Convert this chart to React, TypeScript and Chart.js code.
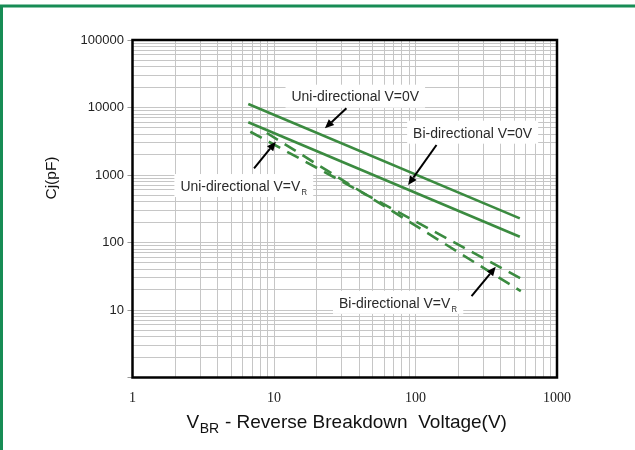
import React, { useEffect, useRef } from 'react';
import { Chart, registerables } from 'chart.js';

Chart.register(...registerables);

// ---- axes ----
const xDecades = [1, 10, 100, 1000];
const xTickLabels = ['1', '10', '100', '1000'];
const yDecades = [1, 10, 100, 1000, 10000, 100000];
const yTickLabels = ['', '10', '100', '1000', '10000', '100000'];
const xTitleMain = 'V';
const xTitleSub = 'BR';
const xTitleRest = ' - Reverse Breakdown  Voltage(V)';
const yTitle = 'Cj(pF)';

// ---- curves: VBR (V) vs Cj (pF) ----
const uniZeroVbr = [6.58, 546];
const uniZeroCj = [11270, 228];
const biZeroVbr = [6.58, 546];
const biZeroCj = [6040, 121.5];
const uniVrVbr = [8.9, 555];
const uniVrCj = [4190, 19];
const biVrVbr = [6.8, 564];
const biVrCj = [4375, 28.7];

// ---- annotations ----
const labelTexts = ['Uni-directional V=0V', 'Bi-directional V=0V', 'Uni-directional V=V', 'Bi-directional V=V'];
const labelSubs = ['', '', 'R', 'R'];
const labelX = [13.3, 96.2, 2.18, 28.8];
const labelY = [14960, 4380, 710, 13.2];
const arrowFromX = [32.5, 140.7, 7.23, 249];
const arrowFromY = [9730, 2780, 1256, 16.0];
const arrowToX = [22.9, 88.7, 10.3, 369];
const arrowToY = [4920, 710, 3110, 43.6];

const GREEN = '#3b8b40';

const pts = (xs: number[], ys: number[]) => xs.map((x, i) => ({ x, y: ys[i] }));

const buildLogTicks = (decades: number[]) => {
  const t: any[] = [];
  for (let i = 0; i < decades.length; i++) {
    const d = decades[i];
    t.push({ value: d, major: true });
    if (i < decades.length - 1) {
      for (let k = 2; k <= 9; k++) t.push({ value: d * k, major: false });
    }
  }
  return t;
};

const SANS = '"Liberation Sans", Arial, sans-serif';
const SERIF = '"Liberation Serif", "Times New Roman", serif';

function drawArrow(ctx: CanvasRenderingContext2D, x1: number, y1: number, x2: number, y2: number) {
  const ang = Math.atan2(y2 - y1, x2 - x1);
  const head = 9;
  const hw = 4;
  const bx = x2 - head * Math.cos(ang);
  const by = y2 - head * Math.sin(ang);
  ctx.save();
  ctx.strokeStyle = '#000';
  ctx.lineWidth = 2;
  ctx.beginPath();
  ctx.moveTo(x1, y1);
  ctx.lineTo(bx, by);
  ctx.stroke();
  ctx.fillStyle = '#000';
  ctx.beginPath();
  ctx.moveTo(x2, y2);
  ctx.lineTo(bx + hw * Math.sin(ang), by - hw * Math.cos(ang));
  ctx.lineTo(bx - hw * Math.sin(ang), by + hw * Math.cos(ang));
  ctx.closePath();
  ctx.fill();
  ctx.restore();
}

function drawLabel(ctx: CanvasRenderingContext2D, text: string, sub: string, x: number, cy: number) {
  const sx = 0.9;
  const mainFont = `15.5px ${SANS}`;
  const subFont = `8.5px ${SANS}`;
  ctx.save();
  ctx.font = mainFont;
  const w1 = ctx.measureText(text).width * sx;
  ctx.font = subFont;
  const w2 = sub ? ctx.measureText(sub).width * sx + 1.5 : 0;
  const w = w1 + w2;
  ctx.fillStyle = '#fff';
  ctx.fillRect(x - 6, cy - 11, w + 12, 23);
  ctx.fillStyle = '#2a2a2a';
  ctx.textAlign = 'left';
  ctx.textBaseline = 'alphabetic';
  ctx.translate(x, cy + 5.8);
  ctx.scale(sx, 1);
  ctx.font = mainFont;
  ctx.fillText(text, 0, 0);
  if (sub) {
    ctx.font = subFont;
    ctx.fillText(sub, w1 / sx + 1.5, 4.4);
  }
  ctx.restore();
}

const decor = {
  id: 'decor',
  beforeDraw(chart: any) {
    const ctx = chart.ctx;
    ctx.save();
    ctx.fillStyle = '#fff';
    ctx.fillRect(0, 0, chart.width, chart.height);
    ctx.restore();
  },
  beforeDatasetsDraw(chart: any) {
    const ctx = chart.ctx;
    const xs = chart.scales.x;
    const ys = chart.scales.y;
    for (let i = 0; i < labelTexts.length; i++) {
      drawLabel(ctx, labelTexts[i], labelSubs[i], xs.getPixelForValue(labelX[i]), ys.getPixelForValue(labelY[i]));
    }
  },
  afterDraw(chart: any) {
    const ctx = chart.ctx;
    const a = chart.chartArea;
    const xs = chart.scales.x;
    const ys = chart.scales.y;
    // plot frame
    ctx.save();
    ctx.strokeStyle = '#000';
    ctx.lineWidth = 2.5;
    ctx.strokeRect(a.left, a.top, a.right - a.left, a.bottom - a.top);
    ctx.restore();
    // arrows
    for (let i = 0; i < arrowFromX.length; i++) {
      drawArrow(
        ctx,
        xs.getPixelForValue(arrowFromX[i]),
        ys.getPixelForValue(arrowFromY[i]),
        xs.getPixelForValue(arrowToX[i]),
        ys.getPixelForValue(arrowToY[i])
      );
    }
    // x title
    ctx.save();
    ctx.fillStyle = '#111';
    ctx.textBaseline = 'alphabetic';
    ctx.textAlign = 'left';
    const mainF = `19px ${SANS}`;
    const subF = `14px ${SANS}`;
    ctx.font = mainF;
    const wV = ctx.measureText(xTitleMain).width;
    const wRest = ctx.measureText(xTitleRest).width;
    ctx.font = subF;
    const wSub = ctx.measureText(xTitleSub).width;
    const total = wV + wSub + 1 + wRest;
    const cx = (a.left + a.right) / 2 + 2;
    let tx = cx - total / 2;
    const base = a.bottom + 50.5;
    ctx.font = mainF;
    ctx.fillText(xTitleMain, tx, base);
    tx += wV + 0.5;
    ctx.font = subF;
    ctx.fillText(xTitleSub, tx, base + 5);
    tx += wSub + 0.5;
    ctx.font = mainF;
    ctx.fillText(xTitleRest, tx, base);
    ctx.restore();
    // y title
    ctx.save();
    ctx.fillStyle = '#111';
    ctx.font = `15.5px ${SANS}`;
    ctx.translate(52, ys.getPixelForValue(1000) + 3);
    ctx.rotate(-Math.PI / 2);
    ctx.textAlign = 'center';
    ctx.textBaseline = 'middle';
    ctx.fillText(yTitle, 0, 0);
    ctx.restore();
    // outer green frame
    ctx.save();
    ctx.strokeStyle = '#178c55';
    ctx.lineWidth = 3;
    ctx.strokeRect(1.5, 6, chart.width + 20, chart.height + 20);
    ctx.restore();
  },
};

export default function App() {
  const ref = useRef<HTMLCanvasElement | null>(null);
  useEffect(() => {
    if (!ref.current) return;
    const mk = (label: string, xs: number[], ys: number[], dashed: boolean) => ({
      label,
      data: pts(xs, ys),
      borderColor: GREEN,
      backgroundColor: GREEN,
      borderWidth: 2.6,
      borderDash: dashed ? [13, 8] : [],
      pointRadius: 0,
      fill: false,
      tension: 0,
      showLine: true,
    });
    const chart = new Chart(ref.current, {
      type: 'line',
      data: {
        datasets: [
          mk('Uni-directional V=0V', uniZeroVbr, uniZeroCj, false),
          mk('Bi-directional V=0V', biZeroVbr, biZeroCj, false),
          mk('Uni-directional V=VR', uniVrVbr, uniVrCj, true),
          mk('Bi-directional V=VR', biVrVbr, biVrCj, true),
        ],
      },
      options: {
        animation: false,
        responsive: false,
        devicePixelRatio: 1,
        parsing: true,
        layout: { padding: { top: 40, right: 78, bottom: 0, left: 0 } },
        plugins: { legend: { display: false }, tooltip: { enabled: false } },
        scales: {
          x: {
            type: 'logarithmic',
            min: 1,
            max: 1000,
            afterBuildTicks: (s: any) => {
              s.ticks = buildLogTicks(xDecades);
            },
            afterFit: (s: any) => {
              s.height = 72.5;
            },
            border: { display: false },
            grid: { color: '#c6c6c6', lineWidth: 1, drawTicks: false },
            ticks: {
              autoSkip: false,
              maxRotation: 0,
              minRotation: 0,
              padding: 12,
              color: '#222',
              font: { family: SERIF, size: 14 },
              callback: (v: any) => {
                const i = xDecades.indexOf(Number(v));
                return i >= 0 ? xTickLabels[i] : '';
              },
            },
          },
          y: {
            type: 'logarithmic',
            min: 1,
            max: 100000,
            afterBuildTicks: (s: any) => {
              s.ticks = buildLogTicks(yDecades);
            },
            afterFit: (s: any) => {
              s.width = 132.5;
            },
            border: { display: false },
            grid: {
              color: '#c6c6c6',
              lineWidth: 1,
              drawTicks: true,
              tickLength: 5,
              tickColor: (c: any) => (c.tick && yDecades.indexOf(c.tick.value) >= 0 ? '#999' : 'rgba(0,0,0,0)'),
            },
            ticks: {
              autoSkip: false,
              padding: 3.5,
              color: '#222',
              font: { family: SANS, size: 13 },
              callback: (v: any) => {
                const i = yDecades.indexOf(Number(v));
                return i >= 0 ? yTickLabels[i] : '';
              },
            },
          },
        },
      },
      plugins: [decor],
    } as any);
    return () => chart.destroy();
  }, []);
  return (
    <div style={{ position: 'absolute', left: 0, top: 0, width: 635, height: 450, background: '#fff' }}>
      <canvas ref={ref} width={635} height={450} style={{ display: 'block', width: 635, height: 450 }} />
    </div>
  );
}
